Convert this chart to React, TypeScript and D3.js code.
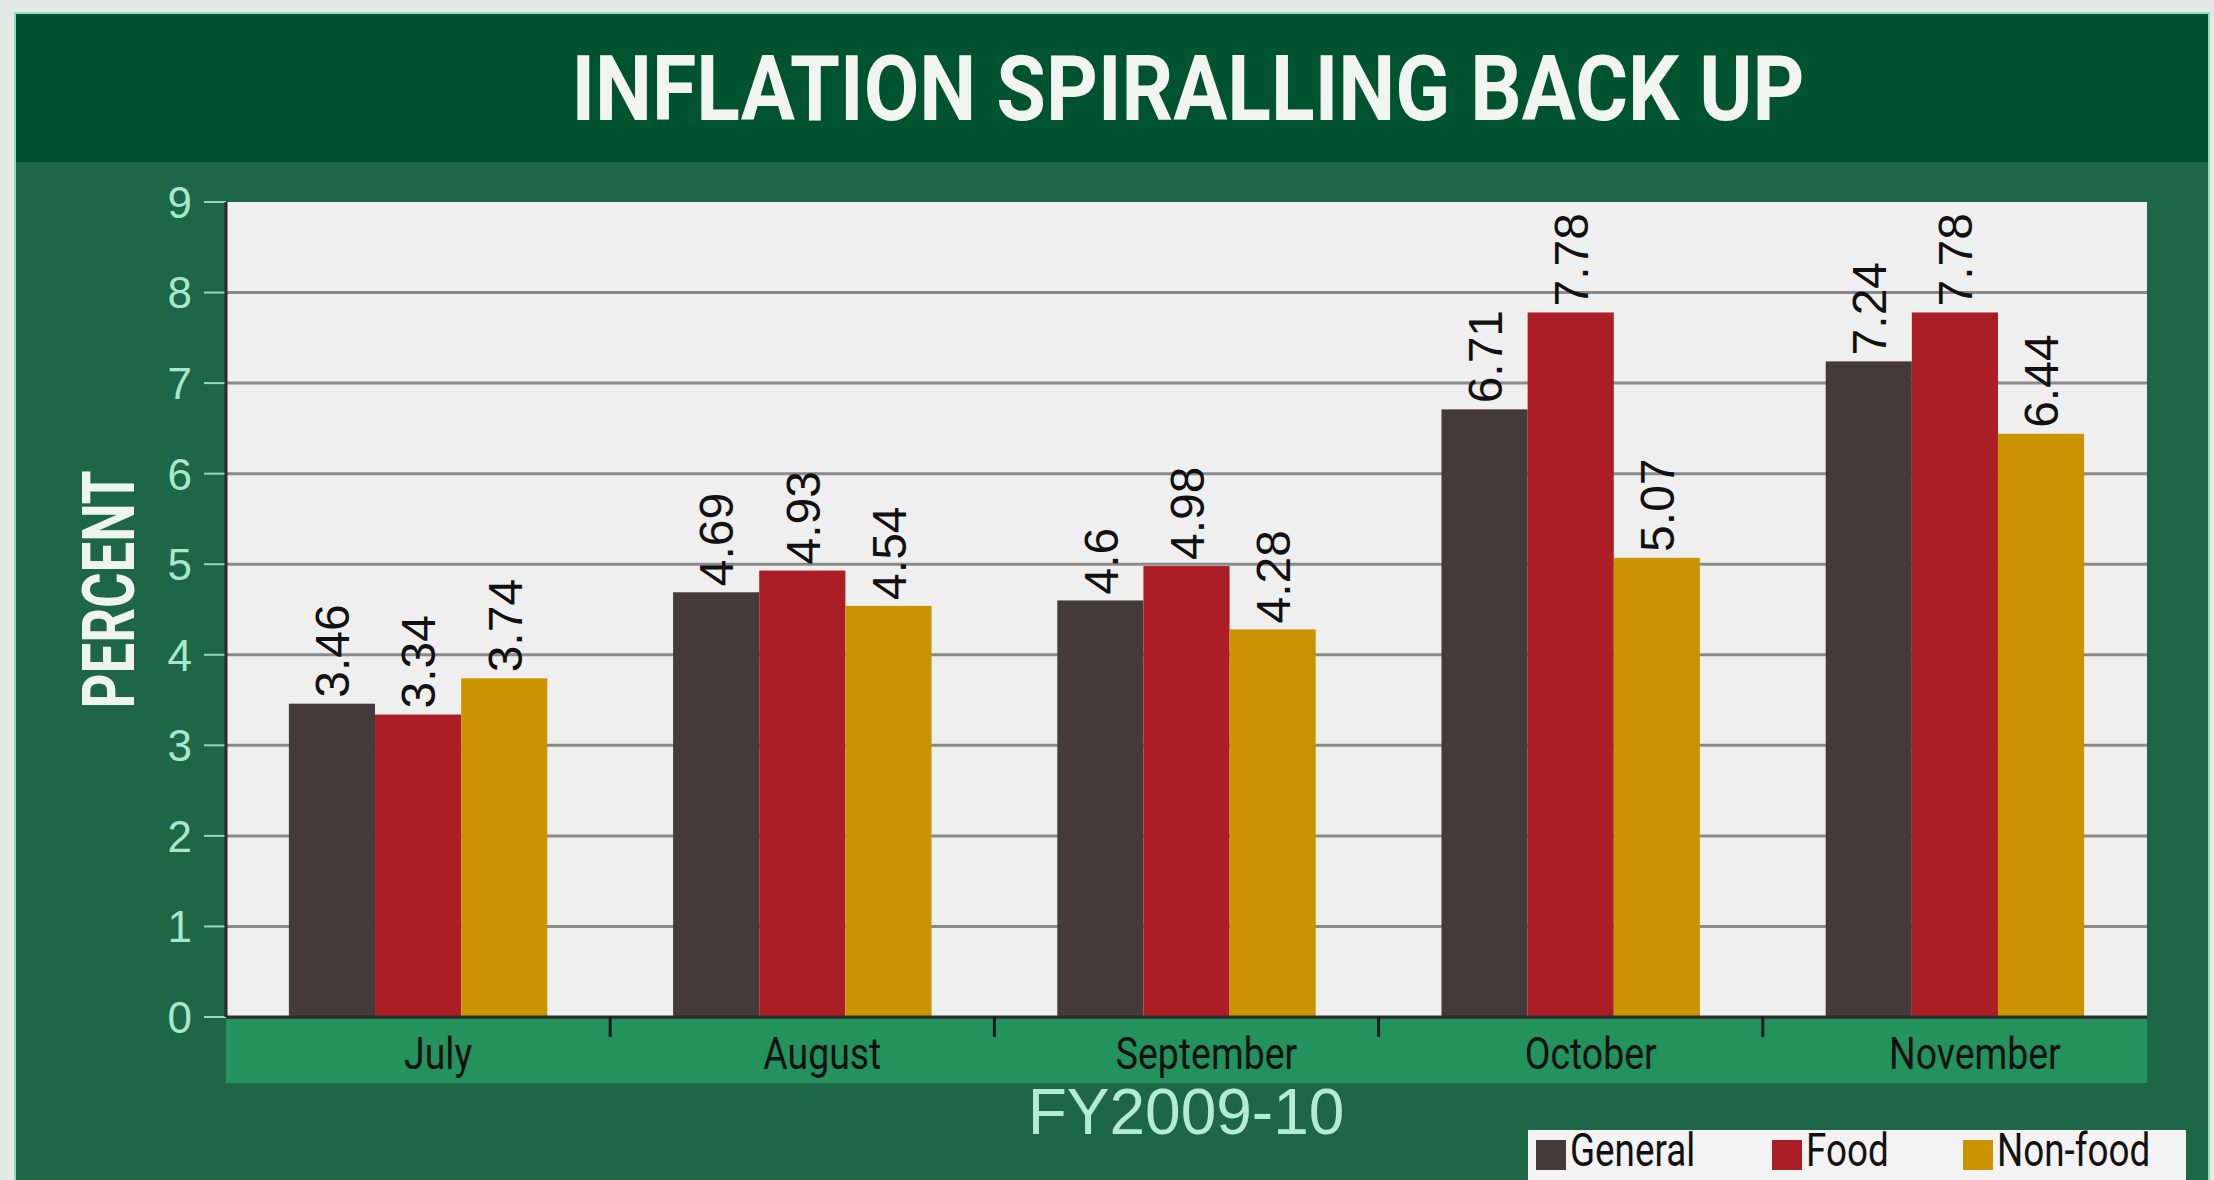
import React from 'react';
import * as d3 from 'd3';

// FY2009-10 inflation by month (percent)
const categories = ['July', 'August', 'September', 'October', 'November'];
const seriesNames = ['General', 'Food', 'Non-food'];
const general = [3.46, 4.69, 4.6, 6.71, 7.24];
const food = [3.34, 4.93, 4.98, 7.78, 7.78];
const nonFood = [3.74, 4.54, 4.28, 5.07, 6.44];
const yTicks = [0, 1, 2, 3, 4, 5, 6, 7, 8, 9];

const colors = ['#453a3a', '#ab1e26', '#cc9300'];
const W = 2214;
const H = 1180;

const App = () => {
  const series = [general, food, nonFood];
  const plot = {left: 226, right: 2147, top: 202, bottom: 1017};

  const x0 = d3.scaleBand().domain(categories).range([plot.left, plot.right]).padding(0);
  const x1 = d3.scaleBand().domain(seriesNames).range([0, x0.bandwidth()])
    .paddingInner(0).paddingOuter(0.73);
  const y = d3.scaleLinear().domain([0, 9]).range([plot.bottom, plot.top]);

  const condensed = 'Roboto, "Liberation Sans", sans-serif';
  const plain = '"Liberation Sans", Arial, sans-serif';

  // legend layout (square x)
  const legendX = [1536, 1772, 1963];

  return (
    <svg width={W} height={H} style={{position: 'absolute', left: 0, top: 0}}>
      <rect x={0} y={0} width={W} height={H} fill="#e4e8e6"/>
      <rect x={14} y={12} width={2196} height={H} fill="#8fdcbc"/>
      <rect x={16} y={14} width={2192} height={H} fill="#1d6646"/>
      <rect x={16} y={14} width={2192} height={148} fill="#00532f"/>
      <text x={1188} y={120} textAnchor="middle" fill="#f1f4ef"
            fontFamily={condensed} fontWeight="bold" fontSize={90}
            textLength={1233} lengthAdjust="spacingAndGlyphs">
        INFLATION SPIRALLING BACK UP
      </text>

      {/* plot area */}
      <rect x={plot.left} y={plot.top} width={plot.right - plot.left} height={plot.bottom - plot.top}
            fill="#efefef"/>
      {yTicks.filter(t => t > 0 && t < 9).map(t => (
        <line key={t} x1={plot.left} x2={plot.right} y1={y(t)} y2={y(t)} stroke="#8a8a8a" strokeWidth={3}/>
      ))}

      {/* y axis */}
      {yTicks.map(t => (
        <g key={t}>
          <line x1={plot.left - 22} x2={plot.left} y1={y(t)} y2={y(t)} stroke="#8fdcbc" strokeWidth={2}/>
          <text x={plot.left - 34} y={y(t)} dy="0.36em" textAnchor="end" fill="#a6e8cb"
                fontFamily={plain} fontSize={44} fontWeight={300}>{t}</text>
        </g>
      ))}
      <line x1={plot.left} x2={plot.left} y1={plot.top} y2={plot.bottom} stroke="#2e2a2a" strokeWidth={3}/>
      <text transform={`translate(134,${(plot.top + plot.bottom) / 2 - 20}) rotate(-90)`} textAnchor="middle"
            fill="#eef3ee" fontFamily={condensed} fontWeight="bold" fontSize={72}
            textLength={238} lengthAdjust="spacingAndGlyphs">PERCENT</text>

      {/* bars */}
      {categories.map((c, i) => (
        <g key={c} transform={`translate(${x0(c)},0)`}>
          {seriesNames.map((s, j) => {
            const v = series[j][i];
            const bx = x1(s) as number;
            const bw = x1.bandwidth();
            return (
              <g key={s}>
                <rect x={bx} y={y(v)} width={bw} height={plot.bottom - y(v)} fill={colors[j]}/>
                <text transform={`translate(${bx + bw / 2},${y(v) - 6}) rotate(-90)`} dy="0.36em"
                      fill="#111" fontFamily={plain} fontSize={48}>{String(v)}</text>
              </g>
            );
          })}
        </g>
      ))}

      {/* x band */}
      <rect x={plot.left} y={plot.bottom + 2} width={plot.right - plot.left} height={64} fill="#23925c"/>
      <line x1={plot.left} x2={plot.right} y1={plot.bottom} y2={plot.bottom} stroke="#2e2a2a" strokeWidth={3}/>
      {categories.slice(1).map(c => (
        <line key={c} x1={x0(c)} x2={x0(c)} y1={plot.bottom} y2={plot.bottom + 20} stroke="#1a1a1a" strokeWidth={3}/>
      ))}
      {categories.map(c => (
        <text key={c} transform={`translate(${(x0(c) as number) + x0.bandwidth() / 2 + 20},${plot.bottom + 52}) scale(0.85,1)`}
              textAnchor="middle" fill="#111" fontFamily={condensed} fontSize={44}>{c}</text>
      ))}
      <text x={1186} y={1134} textAnchor="middle" fill="#b2ecd2" fontFamily={plain} fontSize={64}
            fontWeight={300}>FY2009-10</text>

      {/* legend */}
      <rect x={1528} y={1130} width={658} height={60} fill="#f3f3f3"/>
      {seriesNames.map((s, j) => (
        <g key={s}>
          <rect x={legendX[j]} y={1140} width={30} height={30} fill={colors[j]}/>
          <text transform={`translate(${legendX[j] + 34},1166) scale(0.8,1)`} fill="#111"
                fontFamily={condensed} fontSize={46}>{s}</text>
        </g>
      ))}
    </svg>
  );
};

export default App;
